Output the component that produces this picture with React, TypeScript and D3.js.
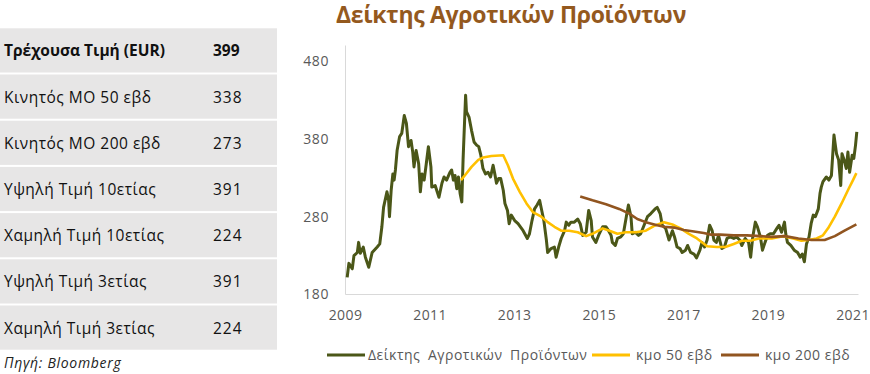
import React from "react";
import * as d3 from "d3";

const title = "Δείκτης Αγροτικών Προϊόντων";
const source = "Πηγή: Bloomberg";

const tableLabels = [
  "Τρέχουσα Τιμή (EUR)",
  "Κινητός ΜΟ 50 εβδ",
  "Κινητός ΜΟ 200 εβδ",
  "Υψηλή Τιμή 10ετίας",
  "Χαμηλή Τιμή 10ετίας",
  "Υψηλή Τιμή 3ετίας",
  "Χαμηλή Τιμή 3ετίας",
];
const tableValues = ["399", "338", "273", "391", "224", "391", "224"];

const seriesNames = ["Δείκτης Αγροτικών Προϊόντων", "κμο 50 εβδ", "κμο 200 εβδ"];
const yearTicks = [2009, 2011, 2013, 2015, 2017, 2019, 2021];
const valueTicks = [180, 280, 380, 480];

// [decimal year, value]
const indexSeries: [number, number][] = [
  [2009.04, 202], [2009.08, 220], [2009.16, 213], [2009.2, 230], [2009.28, 234],
  [2009.31, 247], [2009.35, 233], [2009.42, 241], [2009.47, 228], [2009.55, 215],
  [2009.63, 234], [2009.75, 241], [2009.81, 245], [2009.86, 267], [2009.9, 292],
  [2009.98, 312], [2010.02, 301], [2010.04, 280], [2010.08, 314], [2010.12, 335],
  [2010.15, 327], [2010.18, 340], [2010.22, 365], [2010.28, 383], [2010.33, 387],
  [2010.39, 410], [2010.44, 400], [2010.49, 370], [2010.55, 378], [2010.59, 363],
  [2010.62, 344], [2010.67, 365], [2010.73, 348], [2010.77, 312], [2010.81, 335],
  [2010.86, 327], [2010.91, 348], [2010.96, 370], [2011.02, 344], [2011.04, 318],
  [2011.12, 320], [2011.21, 305], [2011.28, 323], [2011.33, 331], [2011.39, 327],
  [2011.47, 337], [2011.51, 340], [2011.55, 327], [2011.59, 333], [2011.63, 316],
  [2011.67, 331], [2011.71, 310], [2011.75, 299], [2011.78, 353], [2011.84, 436],
  [2011.86, 415], [2011.92, 408], [2011.98, 391], [2012.04, 376], [2012.1, 372],
  [2012.15, 370], [2012.2, 359], [2012.25, 342], [2012.31, 335], [2012.37, 337],
  [2012.43, 331], [2012.49, 346], [2012.53, 335], [2012.57, 323], [2012.62, 329],
  [2012.67, 329], [2012.73, 314], [2012.77, 297], [2012.83, 288], [2012.87, 271],
  [2012.92, 282], [2013.0, 275], [2013.08, 271], [2013.2, 262], [2013.3, 252],
  [2013.35, 258], [2013.41, 275], [2013.47, 290], [2013.53, 295], [2013.59, 301],
  [2013.64, 288], [2013.69, 275], [2013.75, 250], [2013.78, 234], [2013.86, 239],
  [2013.94, 241], [2013.98, 228], [2014.04, 241], [2014.1, 252], [2014.18, 262],
  [2014.22, 273], [2014.28, 269], [2014.33, 273], [2014.41, 273], [2014.49, 277],
  [2014.55, 271], [2014.61, 256], [2014.69, 260], [2014.75, 288], [2014.81, 275],
  [2014.84, 254], [2014.92, 247], [2015.0, 258], [2015.08, 267], [2015.16, 267],
  [2015.22, 262], [2015.28, 256], [2015.31, 247], [2015.38, 243], [2015.43, 252],
  [2015.51, 254], [2015.57, 258], [2015.64, 280], [2015.69, 295], [2015.75, 280],
  [2015.78, 258], [2015.85, 260], [2015.93, 256], [2015.98, 258], [2016.06, 269],
  [2016.14, 280], [2016.22, 284], [2016.32, 290], [2016.37, 292], [2016.44, 284],
  [2016.49, 269], [2016.57, 265], [2016.65, 250], [2016.73, 262], [2016.78, 254],
  [2016.84, 241], [2016.91, 239], [2016.96, 234], [2017.04, 237], [2017.09, 243],
  [2017.16, 234], [2017.24, 232], [2017.3, 227], [2017.38, 237], [2017.43, 247],
  [2017.49, 241], [2017.55, 250], [2017.61, 269], [2017.67, 262], [2017.71, 250],
  [2017.77, 247], [2017.82, 256], [2017.9, 239], [2017.96, 241], [2018.02, 252],
  [2018.1, 254], [2018.18, 252], [2018.25, 254], [2018.32, 250], [2018.37, 243],
  [2018.45, 252], [2018.53, 247], [2018.58, 228], [2018.63, 254], [2018.69, 273],
  [2018.74, 267], [2018.81, 254], [2018.86, 237], [2018.92, 247], [2018.98, 256],
  [2019.04, 258], [2019.12, 258], [2019.2, 265], [2019.25, 269], [2019.31, 260],
  [2019.38, 273], [2019.41, 258], [2019.45, 247], [2019.53, 243], [2019.61, 237],
  [2019.69, 234], [2019.75, 228], [2019.8, 232], [2019.85, 222], [2019.9, 245],
  [2019.96, 254], [2020.01, 271], [2020.06, 282], [2020.11, 280], [2020.18, 290],
  [2020.22, 310], [2020.25, 318], [2020.29, 325], [2020.37, 331], [2020.43, 327],
  [2020.49, 333], [2020.55, 385], [2020.61, 361], [2020.66, 353], [2020.71, 320],
  [2020.74, 361], [2020.79, 353], [2020.84, 342], [2020.88, 363], [2020.92, 337],
  [2020.98, 359], [2021.02, 355], [2021.06, 372], [2021.09, 389],
];

const ma50Series: [number, number][] = [
  [2011.73, 327], [2011.82, 333], [2011.98, 344], [2012.14, 353], [2012.25, 356],
  [2012.45, 358], [2012.73, 359], [2012.84, 346], [2012.96, 329], [2013.12, 312],
  [2013.28, 297], [2013.43, 286], [2013.63, 280], [2013.78, 273], [2013.94, 267],
  [2014.1, 262], [2014.29, 262], [2014.49, 260], [2014.69, 255], [2014.84, 258],
  [2015.08, 265], [2015.24, 262], [2015.43, 258], [2015.63, 260], [2015.86, 260],
  [2016.1, 262], [2016.29, 268], [2016.53, 273], [2016.73, 270], [2016.92, 265],
  [2017.12, 258], [2017.31, 252], [2017.55, 242], [2017.78, 241], [2017.98, 241],
  [2018.18, 245], [2018.37, 249], [2018.57, 249], [2018.77, 252], [2019.08, 252],
  [2019.35, 255], [2019.59, 252], [2019.78, 249], [2019.94, 250], [2020.14, 252],
  [2020.29, 256], [2020.41, 265], [2020.57, 280], [2020.73, 297], [2020.88, 314],
  [2021.0, 327], [2021.08, 336],
];

const ma200Series: [number, number][] = [
  [2014.55, 306], [2014.84, 301], [2015.16, 296], [2015.47, 290], [2015.71, 284],
  [2015.9, 277], [2016.1, 273], [2016.37, 269], [2016.53, 267], [2016.77, 266],
  [2017.0, 263], [2017.24, 261], [2017.47, 259], [2017.63, 257], [2017.86, 257],
  [2018.18, 256], [2018.49, 256], [2018.81, 255], [2019.08, 254], [2019.39, 255],
  [2019.71, 252], [2020.02, 250], [2020.33, 250], [2020.57, 255], [2020.8, 262],
  [2021.08, 270],
];

const colors = ["#4B5718", "#FFC000", "#915520"];
const FONT = "'Open Sans', 'DejaVu Sans', sans-serif";

export default function App() {
  const x = d3.scaleLinear().domain([2009, 2021]).range([345.5, 853]);
  const y = d3.scaleLinear().domain([180, 500]).range([294.5, 45.5]);
  const line = d3
    .line<[number, number]>()
    .x((d) => x(d[0]))
    .y((d) => y(d[1]));

  const rowTop = 28.3;
  const rowPitch = 46.2;
  const rowH = 44.2;

  const legendItems = [
    { x1: 327, tx: 368, name: seriesNames[0], color: colors[0], ws: 3.5 },
    { x1: 592, tx: 636, name: seriesNames[1], color: colors[1], ws: 0 },
    { x1: 721, tx: 765, name: seriesNames[2], color: colors[2], ws: 0 },
  ];

  return (
    <svg
      width={870}
      height={374}
      style={{ position: "absolute", left: 0, top: 0, background: "#fff" }}
      fontFamily={FONT}
    >
      {/* table */}
      {tableLabels.map((lab, i) => {
        const top = rowTop + i * rowPitch;
        const bold = i === 0;
        return (
          <g key={lab}>
            <rect x={0} y={top} width={277} height={rowH} fill="#E7E6E6" />
            <text
              x={4}
              y={top + rowH / 2 + 6}
              fontSize={15.5}
              fontWeight={bold ? 700 : 400}
              letterSpacing={bold ? 0 : 0.5}
              fill="#111"
            >
              {lab}
            </text>
            <text
              x={213}
              y={top + rowH / 2 + 6}
              fontSize={15.5}
              fontWeight={bold ? 700 : 400}
              letterSpacing={bold ? 0 : 1}
              fill="#111"
            >
              {tableValues[i]}
            </text>
          </g>
        );
      })}
      <text x={4} y={368} fontSize={14} fontStyle="italic" letterSpacing={0.7} fill="#222">
        {source}
      </text>

      {/* title */}
      <text
        x={511}
        y={23}
        textAnchor="middle"
        fontSize={23}
        fontWeight={700}
        letterSpacing={-0.3}
        fill="#94591E"
      >
        {title}
      </text>

      {/* axes */}
      <line x1={x(2009)} x2={x(2009)} y1={y(500)} y2={y(180)} stroke="#D9D9D9" strokeWidth={1} />
      <line x1={x(2009)} x2={x(2021.13)} y1={y(180)} y2={y(180)} stroke="#D9D9D9" strokeWidth={1} />
      {valueTicks.map((v) => (
        <text key={v} x={329} y={y(v)} dy="0.35em" textAnchor="end" fontSize={14} letterSpacing={0.6} fill="#595959">
          {v}
        </text>
      ))}
      {yearTicks.map((t) => (
        <text key={t} x={x(t)} y={320} textAnchor="middle" fontSize={14} letterSpacing={0.4} fill="#595959">
          {t}
        </text>
      ))}

      {/* series */}
      <path d={line(indexSeries) || ""} fill="none" stroke={colors[0]} strokeWidth={3} strokeLinejoin="round" />
      <path d={line(ma50Series) || ""} fill="none" stroke={colors[1]} strokeWidth={2.6} strokeLinejoin="round" />
      <path d={line(ma200Series) || ""} fill="none" stroke={colors[2]} strokeWidth={2.6} strokeLinejoin="round" />

      {/* legend */}
      {legendItems.map((it) => (
        <g key={it.name}>
          <line x1={it.x1} x2={it.x1 + 38} y1={355} y2={355} stroke={it.color} strokeWidth={3} />
          <text x={it.tx} y={360} fontSize={14} letterSpacing={0.5} wordSpacing={it.ws} fill="#595959">
            {it.name}
          </text>
        </g>
      ))}
    </svg>
  );
}
